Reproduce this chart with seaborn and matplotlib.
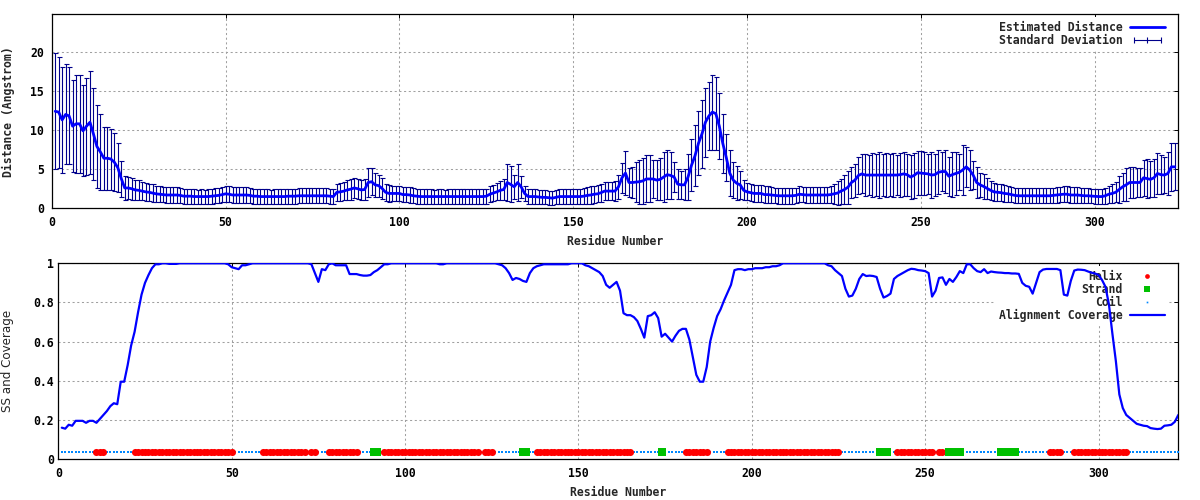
import numpy as np
import pandas as pd
import matplotlib
matplotlib.use("Agg")
import matplotlib.pyplot as plt
import seaborn as sns
from matplotlib.lines import Line2D
from matplotlib.legend_handler import HandlerLine2D

# ---------------- data ----------------
RESIDUES = list(range(1, 324))

DISTANCE = [
    12.4, 12.3, 11.3, 12.0, 11.8, 10.5, 10.8, 10.8, 9.9, 10.5,
    11.0, 9.5, 7.9, 7.2, 6.4, 6.4, 6.3, 5.9, 5.2, 3.8,
    2.6, 2.6, 2.5, 2.35, 2.3, 2.2, 2.1, 2.05, 1.95, 1.85,
    1.8, 1.75, 1.7, 1.7, 1.7, 1.7, 1.65, 1.55, 1.55, 1.55,
    1.5, 1.5, 1.5, 1.5, 1.5, 1.55, 1.6, 1.65, 1.75, 1.85,
    1.8, 1.7, 1.7, 1.7, 1.7, 1.7, 1.65, 1.55, 1.55, 1.5,
    1.5, 1.5, 1.5, 1.5, 1.5, 1.5, 1.5, 1.55, 1.55, 1.55,
    1.6, 1.6, 1.6, 1.6, 1.6, 1.6, 1.6, 1.6, 1.6, 1.55,
    1.5, 2.05, 2.1, 2.2, 2.35, 2.45, 2.6, 2.5, 2.35, 2.4,
    3.3, 3.4, 3.0, 2.9, 2.55, 2.05, 1.9, 1.9, 1.9, 1.9,
    1.75, 1.75, 1.7, 1.6, 1.55, 1.5, 1.5, 1.5, 1.5, 1.5,
    1.5, 1.5, 1.5, 1.5, 1.5, 1.5, 1.5, 1.5, 1.5, 1.5,
    1.5, 1.5, 1.5, 1.5, 1.55, 1.8, 1.95, 2.1, 2.3, 2.4,
    3.3, 3.05, 2.75, 3.3, 2.75, 1.9, 1.5, 1.5, 1.5, 1.45,
    1.4, 1.4, 1.35, 1.3, 1.4, 1.5, 1.5, 1.5, 1.5, 1.5,
    1.5, 1.5, 1.55, 1.65, 1.7, 1.8, 1.85, 2.0, 2.2, 2.2,
    2.2, 2.2, 2.75, 3.9, 4.5, 3.3, 3.3, 3.35, 3.4, 3.5,
    3.75, 3.75, 3.75, 3.6, 3.7, 4.0, 4.3, 4.2, 4.0, 3.1,
    3.0, 3.0, 4.0, 5.5, 6.7, 8.3, 9.5, 11.0, 11.8, 12.3,
    12.1, 10.5, 8.3, 6.5, 4.5, 3.6, 3.2, 3.0, 2.3, 2.1,
    2.0, 1.9, 1.9, 1.9, 1.75, 1.75, 1.7, 1.65, 1.6, 1.6,
    1.6, 1.6, 1.6, 1.65, 1.8, 1.75, 1.7, 1.7, 1.7, 1.7,
    1.7, 1.7, 1.7, 1.75, 1.85, 1.95, 2.2, 2.4, 2.7, 3.3,
    3.6, 4.2, 4.4, 4.25, 4.25, 4.25, 4.25, 4.25, 4.25, 4.25,
    4.25, 4.25, 4.25, 4.3, 4.4, 4.3, 4.0, 4.2, 4.55, 4.5,
    4.45, 4.4, 4.25, 4.3, 4.6, 4.7, 4.7, 4.1, 4.3, 4.45,
    4.6, 4.9, 5.3, 4.9, 4.25, 3.3, 3.0, 2.8, 2.55, 2.3,
    2.1, 2.05, 2.0, 1.9, 1.85, 1.75, 1.65, 1.6, 1.6, 1.6,
    1.6, 1.6, 1.6, 1.6, 1.6, 1.6, 1.6, 1.65, 1.7, 1.75,
    1.8, 1.8, 1.7, 1.7, 1.7, 1.65, 1.6, 1.6, 1.57, 1.55,
    1.5, 1.5, 1.6, 1.8, 1.9, 2.05, 2.4, 2.75, 3.0, 3.3,
    3.3, 3.3, 3.3, 3.9, 3.8, 3.7, 3.9, 4.45, 4.3, 4.25,
    4.45, 5.3, 5.3,
]

STD_DEV = [
    7.4, 7.1, 6.8, 6.4, 6.2, 5.9, 6.3, 6.3, 5.8, 6.2,
    6.6, 5.9, 5.3, 4.8, 4.0, 4.0, 3.9, 3.7, 3.1, 2.3,
    1.5, 1.45, 1.4, 1.3, 1.3, 1.2, 1.15, 1.1, 1.1, 1.05,
    1.0, 1.0, 1.0, 1.0, 1.0, 1.0, 0.95, 0.95, 0.95, 0.95,
    0.95, 0.9, 0.95, 0.9, 0.95, 0.95, 0.95, 1.0, 1.0, 1.05,
    1.05, 1.0, 1.0, 1.05, 1.0, 1.0, 1.0, 0.95, 0.95, 0.95,
    0.95, 0.95, 0.9, 0.95, 0.95, 0.95, 0.95, 0.95, 0.95, 0.95,
    0.95, 0.95, 0.95, 0.95, 0.95, 0.95, 0.95, 0.95, 0.95, 0.95,
    0.95, 1.1, 1.15, 1.2, 1.3, 1.35, 1.3, 1.3, 1.25, 1.3,
    1.8, 1.7, 1.5, 1.4, 1.3, 1.1, 1.05, 1.0, 1.0, 1.0,
    1.0, 1.0, 1.0, 0.95, 0.95, 0.95, 0.95, 0.95, 0.95, 0.9,
    0.95, 0.95, 0.9, 0.95, 0.95, 0.95, 0.95, 0.95, 0.95, 0.95,
    0.95, 0.95, 0.95, 0.95, 0.95, 1.0, 1.05, 1.1, 1.2, 1.3,
    2.4, 2.3, 1.5, 2.4, 1.4, 1.0, 0.95, 0.95, 0.95, 0.9,
    0.9, 0.9, 0.9, 0.9, 0.9, 0.95, 0.95, 0.95, 0.95, 0.95,
    1.0, 1.0, 1.0, 1.05, 1.1, 1.1, 1.1, 1.15, 1.2, 1.2,
    1.2, 1.3, 1.5, 1.9, 2.8, 1.9, 2.0, 2.6, 2.8, 2.9,
    3.0, 3.0, 2.4, 2.6, 2.7, 3.2, 3.1, 3.0, 1.9, 1.9,
    1.8, 2.0, 2.9, 3.3, 3.9, 4.1, 4.3, 4.4, 4.3, 4.8,
    4.7, 4.2, 3.8, 3.0, 2.9, 2.3, 2.2, 1.8, 1.3, 1.1,
    1.1, 1.1, 1.1, 1.1, 1.05, 1.05, 1.0, 1.0, 1.0, 1.0,
    1.0, 1.0, 1.0, 1.0, 1.0, 1.0, 1.0, 1.0, 1.0, 1.0,
    1.0, 1.0, 1.0, 1.1, 1.3, 1.5, 1.6, 1.9, 2.1, 2.0,
    2.1, 2.4, 2.5, 2.7, 2.6, 2.8, 2.7, 2.9, 2.7, 2.8,
    2.7, 2.8, 2.6, 2.8, 2.8, 2.7, 2.8, 2.9, 2.8, 2.8,
    2.8, 2.6, 2.9, 2.7, 2.8, 2.5, 2.7, 2.5, 2.9, 2.7,
    2.3, 3.2, 2.6, 2.5, 1.8, 2.0, 1.5, 1.6, 1.3, 1.2,
    1.15, 1.1, 1.1, 1.05, 1.0, 1.0, 0.95, 0.95, 0.95, 0.95,
    0.95, 0.95, 0.95, 0.95, 0.95, 0.95, 0.95, 0.95, 1.0, 1.0,
    1.0, 1.0, 1.0, 1.0, 1.0, 0.95, 0.95, 0.95, 0.95, 0.95,
    1.0, 1.0, 1.05, 1.1, 1.2, 1.3, 1.7, 1.8, 2.1, 2.0,
    2.0, 1.9, 1.8, 2.3, 2.5, 2.3, 2.4, 2.6, 2.5, 2.3,
    2.8, 3.1, 3.0,
]

COVERAGE = [
    0.16, 0.155, 0.175, 0.17, 0.195, 0.195, 0.195, 0.185, 0.195, 0.195,
    0.185, 0.205, 0.225, 0.245, 0.27, 0.285, 0.28, 0.395, 0.395, 0.48,
    0.58, 0.65, 0.75, 0.84, 0.9, 0.94, 0.975, 0.995, 0.995, 1.0,
    1.0, 0.997, 0.997, 0.997, 1.0, 1.0, 1.0, 1.0, 1.0, 1.0,
    1.0, 1.0, 1.0, 1.0, 1.0, 1.0, 1.0, 1.0, 0.995, 0.98,
    0.975, 0.97, 0.99, 0.99, 0.995, 1.0, 1.0, 1.0, 1.0, 1.0,
    1.0, 1.0, 1.0, 1.0, 1.0, 1.0, 1.0, 1.0, 1.0, 1.0,
    1.0, 1.0, 0.995, 0.95, 0.905, 0.97, 0.965, 0.995, 1.0, 0.99,
    0.99, 0.99, 0.99, 0.945, 0.945, 0.945, 0.94, 0.937, 0.937, 0.94,
    0.955, 0.965, 0.98, 0.995, 0.995, 1.0, 1.0, 1.0, 1.0, 1.0,
    1.0, 1.0, 1.0, 1.0, 1.0, 1.0, 1.0, 1.0, 1.0, 0.995,
    0.995, 1.0, 1.0, 1.0, 1.0, 1.0, 1.0, 1.0, 1.0, 1.0,
    1.0, 1.0, 1.0, 1.0, 1.0, 1.0, 0.995, 0.99, 0.975, 0.95,
    0.915, 0.925, 0.92, 0.91, 0.905, 0.95, 0.975, 0.985, 0.99, 0.995,
    0.995, 0.995, 0.995, 0.995, 0.995, 0.995, 0.995, 1.0, 1.0, 1.0,
    1.0, 0.99, 0.985, 0.975, 0.965, 0.955, 0.935, 0.89, 0.875, 0.89,
    0.905, 0.86, 0.745, 0.735, 0.735, 0.725, 0.705, 0.665, 0.62, 0.73,
    0.735, 0.75, 0.72, 0.625, 0.64, 0.62, 0.6, 0.63, 0.655, 0.665,
    0.665, 0.61, 0.52, 0.43, 0.395, 0.395, 0.47, 0.6, 0.67, 0.73,
    0.765, 0.81, 0.85, 0.89, 0.965, 0.97, 0.97, 0.965, 0.97, 0.97,
    0.975, 0.975, 0.975, 0.98, 0.98, 0.985, 0.985, 0.99, 1.0, 1.0,
    1.0, 1.0, 1.0, 1.0, 1.0, 1.0, 1.0, 1.0, 1.0, 1.0,
    1.0, 0.99, 0.985, 0.965, 0.95, 0.935, 0.87, 0.83, 0.835, 0.87,
    0.92, 0.945, 0.935, 0.937, 0.935, 0.93, 0.87, 0.825, 0.833, 0.845,
    0.92, 0.935, 0.945, 0.955, 0.965, 0.972, 0.97, 0.965, 0.963, 0.96,
    0.95, 0.83, 0.86, 0.925, 0.928, 0.89, 0.92, 0.905, 0.93, 0.96,
    0.95, 0.995, 0.995, 0.975, 0.96, 0.955, 0.97, 0.95, 0.958, 0.955,
    0.953, 0.952, 0.95, 0.95, 0.948, 0.948, 0.946, 0.9, 0.885, 0.88,
    0.845, 0.9, 0.955, 0.968, 0.971, 0.971, 0.971, 0.971, 0.965, 0.84,
    0.835, 0.91, 0.963, 0.968, 0.967, 0.965, 0.958, 0.952, 0.948, 0.94,
    0.915, 0.88, 0.79, 0.64, 0.5, 0.33, 0.26, 0.225, 0.21, 0.195,
    0.18, 0.175, 0.17, 0.168, 0.158, 0.155, 0.153, 0.155, 0.17, 0.172,
    0.175, 0.19, 0.225,
]

# secondary structure segments (first residue, last residue)
HELIX_SEGMENTS = [(11, 13), (22, 50), (59, 71), (73, 74), (78, 86), (94, 121),
                  (123, 125), (138, 165), (181, 187), (193, 225), (242, 252),
                  (254, 255), (286, 289), (293, 308)]
STRAND_SEGMENTS = [(91, 92), (134, 135), (174, 174), (237, 239), (257, 260),
                   (272, 276)]

X_TICKS = [0, 50, 100, 150, 200, 250, 300]
DIST_TICKS = [0, 5, 10, 15, 20]
COV_TICKS = [0, 0.2, 0.4, 0.6, 0.8, 1.0]
COV_TICK_LABELS = ["0", "0.2", "0.4", "0.6", "0.8", "1"]

# ---------------- style ----------------
BLUE = "#0000ff"
NAVY = "#00008b"
RED = "#ff0000"
GREEN = "#00c000"
COIL = "#0088ff"
GRID = "#a0a0a0"
FS = 8.3
SS_TRACK_Y = 0.034

sns.set_style("white")
plt.rcParams["font.family"] = ["DejaVu Sans Mono", "DejaVu Sans"]
plt.rcParams["font.weight"] = "bold"
plt.rcParams["font.size"] = FS

ss = ["C"] * len(RESIDUES)
for a, b in HELIX_SEGMENTS:
    for r in range(a, b + 1):
        ss[r - 1] = "H"
for a, b in STRAND_SEGMENTS:
    for r in range(a, b + 1):
        ss[r - 1] = "E"

dist_df = pd.DataFrame({"Residue": RESIDUES, "Distance": DISTANCE, "Std": STD_DEV})
cov_df = pd.DataFrame({"Residue": RESIDUES, "Coverage": COVERAGE, "SS": ss})
cov_df["Track"] = SS_TRACK_Y

fig = plt.figure(figsize=(12, 5), dpi=100)
ax1 = fig.add_axes([0.0431, 0.5834, 0.9388, 0.388])
ax2 = fig.add_axes([0.0486, 0.082, 0.9333, 0.3914])


def style_axes(ax, ypad):
    ax.set_axisbelow(True)
    ax.grid(True, color=GRID, lw=0.75, ls=(0, (2, 2.5)))
    for sp in ax.spines.values():
        sp.set_color("black")
        sp.set_linewidth(0.9)
        sp.set_visible(True)
    ax.tick_params(axis="both", direction="in", length=3.2, width=0.7,
                   top=True, right=True, labelsize=FS, colors="black")
    ax.tick_params(axis="x", pad=5.5)
    ax.tick_params(axis="y", pad=ypad)
    for t in ax.get_xticklabels() + ax.get_yticklabels():
        t.set_fontweight("bold")
        t.set_family("DejaVu Sans Mono")


# ---------------- top panel ----------------
ax1.errorbar(dist_df["Residue"], dist_df["Distance"], yerr=dist_df["Std"],
             fmt="none", ecolor=NAVY, elinewidth=0.8, capsize=1.8,
             capthick=0.8, zorder=2)
sns.lineplot(data=dist_df, x="Residue", y="Distance", ax=ax1, color=BLUE,
             lw=2.0, zorder=3, legend=False)
ax1.set_xlim(0, 324)
ax1.set_ylim(0, 24.8)
ax1.set_xticks(X_TICKS)
ax1.set_yticks(DIST_TICKS)
ax1.set_xlabel("Residue Number", fontsize=FS, fontweight="bold",
               family="DejaVu Sans Mono")
ax1.set_ylabel("Distance (Angstrom)", fontsize=FS, fontweight="bold",
               family="DejaVu Sans Mono")
ax1.xaxis.set_label_coords(0.5, -0.14)
ax1.xaxis.label.set_va("top")
ax1.yaxis.set_label_coords(-0.0326, 0.5)
style_axes(ax1, 5.5)

h_line = Line2D([], [], color=BLUE, lw=2.0)
h_err = Line2D([], [], color=NAVY, lw=0.8, marker="|", markersize=4.5,
               markeredgewidth=0.8)
leg1 = ax1.legend([h_line, h_err], ["Estimated Distance", "Standard Deviation"],
                  loc="upper right", bbox_to_anchor=(0.991, 0.985),
                  markerfirst=False, frameon=True, fancybox=False,
                  edgecolor="none", facecolor="white", framealpha=1,
                  borderpad=0.3, borderaxespad=0, handlelength=3.0,
                  handletextpad=0.63, labelspacing=0.05,
                  handler_map={h_err: HandlerLine2D(numpoints=3)},
                  prop={"family": "DejaVu Sans Mono", "weight": "bold", "size": FS})
leg1.set_zorder(1.5)

# ---------------- bottom panel ----------------
sns.scatterplot(data=cov_df[cov_df["SS"] == "C"], x="Residue", y="Track",
                ax=ax2, marker="s", s=1.6, color=COIL, linewidth=0, zorder=3,
                legend=False)
sns.scatterplot(data=cov_df[cov_df["SS"] == "H"], x="Residue", y="Track",
                ax=ax2, marker="o", s=26, color=RED, linewidth=0, zorder=3,
                legend=False)
sns.scatterplot(data=cov_df[cov_df["SS"] == "E"], x="Residue", y="Track",
                ax=ax2, marker="s", s=28, color=GREEN, linewidth=0, zorder=4,
                legend=False)
sns.lineplot(data=cov_df, x="Residue", y="Coverage", ax=ax2, color=BLUE,
             lw=1.6, zorder=5, legend=False)
ax2.set_xlim(0, 323)
ax2.set_ylim(0, 1)
ax2.set_xticks(X_TICKS)
ax2.set_yticks(COV_TICKS)
ax2.set_yticklabels(COV_TICK_LABELS)
ax2.set_xlabel("Residue Number", fontsize=FS, fontweight="bold",
               family="DejaVu Sans Mono")
ax2.set_ylabel("SS and Coverage", fontsize=8.6, fontweight="normal",
               family="DejaVu Sans")
ax2.xaxis.set_label_coords(0.5, -0.138)
ax2.xaxis.label.set_va("top")
ax2.yaxis.set_label_coords(-0.0393, 0.5)
style_axes(ax2, 3.0)

hh = Line2D([], [], ls="none", marker="o", markersize=3.4, color=RED, markeredgewidth=0)
he = Line2D([], [], ls="none", marker="s", markersize=5.0, color=GREEN, markeredgewidth=0)
hc = Line2D([], [], ls="none", marker="s", markersize=1.2, color=COIL, markeredgewidth=0)
hl = Line2D([], [], color=BLUE, lw=1.6)
leg2 = ax2.legend([hh, he, hc, hl], ["Helix", "Strand", "Coil", "Alignment Coverage"],
                  loc="upper right", bbox_to_anchor=(0.991, 0.985),
                  markerfirst=False, frameon=True, fancybox=False,
                  edgecolor="none", facecolor="white", framealpha=1,
                  borderpad=0.3, borderaxespad=0, handlelength=3.0,
                  handletextpad=0.63, labelspacing=0.0,
                  prop={"family": "DejaVu Sans Mono", "weight": "bold", "size": FS})
leg2.set_zorder(1.5)

fig.savefig("out.png", dpi=100)
